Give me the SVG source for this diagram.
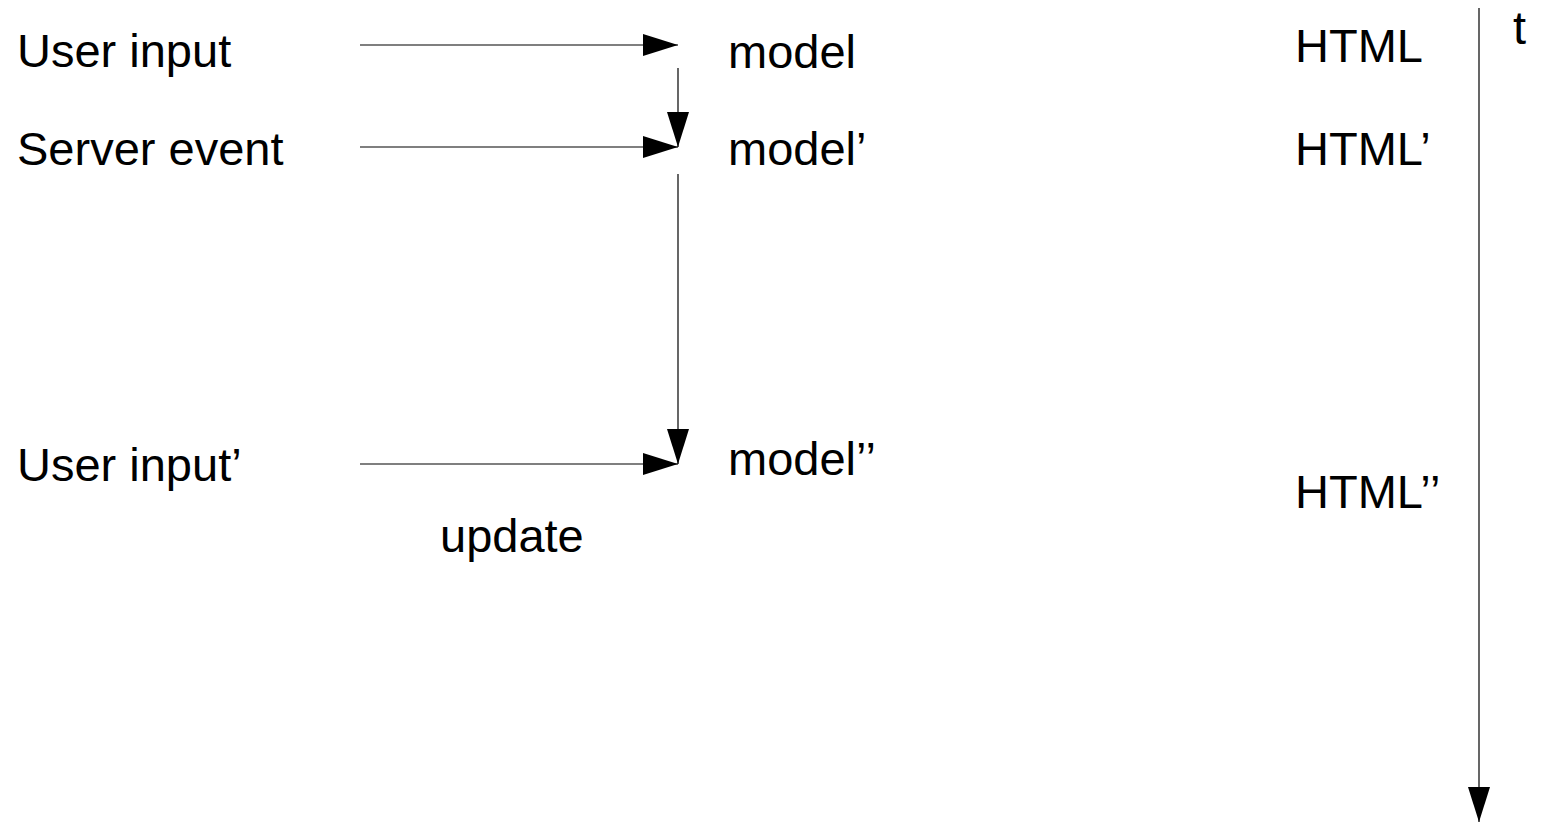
<svg xmlns="http://www.w3.org/2000/svg" width="1544" height="822" viewBox="0 0 1544 822">
<style>
text{font-family:"Liberation Sans",Arial,sans-serif;font-size:47px;fill:#000}
.c{stroke:#000;stroke-width:1.2;fill:none}
</style>
<defs>
<marker id="ah" markerUnits="userSpaceOnUse" markerWidth="35" markerHeight="22" refX="35" refY="11" orient="auto" viewBox="0 0 35 22">
<path d="M0,0 L35,11 L0,22 z" fill="#000"/>
</marker>
</defs>
<rect width="1544" height="822" fill="#fff"/>
<g id="inputs">
<g id="n-user-input"><text x="17" y="67">User input</text></g>
<g id="n-server-event"><text x="17" y="165">Server event</text></g>
<g id="n-user-input2"><text x="17" y="481">User input’</text></g>
</g>
<g id="models">
<g id="n-model"><text x="728" y="68">model</text></g>
<g id="n-model1"><text x="728" y="165">model’</text></g>
<g id="n-model2"><text x="728" y="475">model’’</text></g>
</g>
<g id="html">
<g id="n-html"><text x="1295" y="62">HTML</text></g>
<g id="n-html1"><text x="1295" y="165">HTML’</text></g>
<g id="n-html2"><text x="1295" y="508">HTML’’</text></g>
</g>
<g id="n-update"><text x="440" y="552">update</text></g>
<g id="n-t"><text x="1513" y="44">t</text></g>
<g id="connectors">
<line class="c" x1="360" y1="45" x2="678" y2="45" marker-end="url(#ah)"/>
<line class="c" x1="360" y1="147" x2="678" y2="147" marker-end="url(#ah)"/>
<line class="c" x1="360" y1="464" x2="678" y2="464" marker-end="url(#ah)"/>
<line class="c" x1="678" y1="68" x2="678" y2="147" marker-end="url(#ah)"/>
<line class="c" x1="678" y1="174" x2="678" y2="464" marker-end="url(#ah)"/>
<line class="c" x1="1479" y1="8" x2="1479" y2="822" stroke-width="1.6" marker-end="url(#ah)"/>
</g>
</svg>
